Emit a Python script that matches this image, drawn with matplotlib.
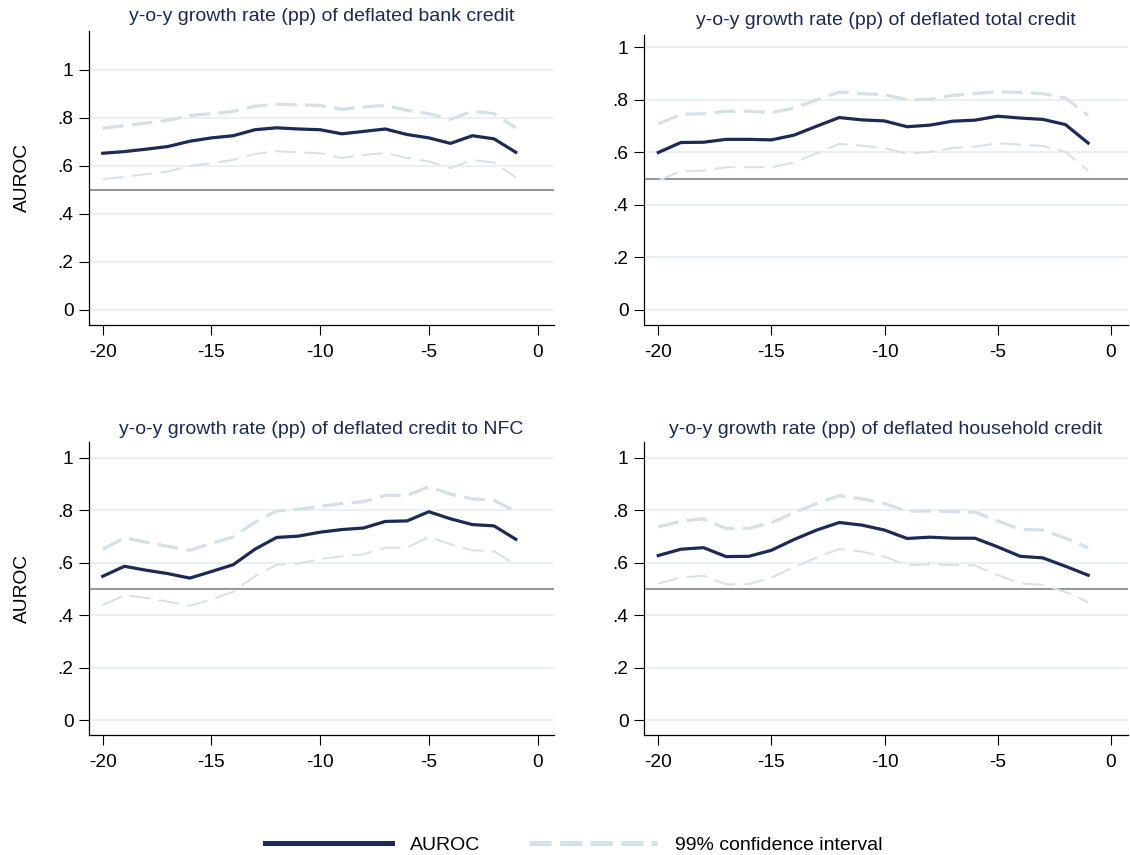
import matplotlib
matplotlib.use('Agg')
import matplotlib.pyplot as plt
from matplotlib.lines import Line2D
import numpy as np

plt.rcParams['font.family'] = ['Liberation Sans', 'DejaVu Sans']
plt.rcParams['lines.scale_dashes'] = False

# horizon (quarters before crisis)
horizon = list(range(-20, 0))

titles = ['y-o-y growth rate (pp) of deflated bank credit',
          'y-o-y growth rate (pp) of deflated total credit',
          'y-o-y growth rate (pp) of deflated credit to NFC',
          'y-o-y growth rate (pp) of deflated household credit']

# bank credit
bank_auc = [0.653, 0.660, 0.670, 0.681, 0.703, 0.717, 0.726, 0.751, 0.759, 0.754,
            0.751, 0.734, 0.744, 0.754, 0.731, 0.717, 0.694, 0.726, 0.713, 0.657]
bank_hi = [0.758, 0.768, 0.779, 0.790, 0.810, 0.818, 0.827, 0.849, 0.857, 0.855,
           0.852, 0.836, 0.846, 0.852, 0.832, 0.818, 0.794, 0.828, 0.818, 0.759]
bank_lo = [0.545, 0.555, 0.566, 0.577, 0.600, 0.612, 0.625, 0.650, 0.661, 0.657,
           0.653, 0.633, 0.646, 0.654, 0.633, 0.619, 0.591, 0.625, 0.614, 0.552]

# total credit
total_auc = [0.599, 0.637, 0.638, 0.649, 0.649, 0.647, 0.665, 0.699, 0.732, 0.723,
             0.719, 0.697, 0.703, 0.718, 0.722, 0.737, 0.730, 0.725, 0.705, 0.635]
total_hi = [0.708, 0.744, 0.746, 0.756, 0.756, 0.751, 0.768, 0.799, 0.829, 0.823,
            0.819, 0.799, 0.801, 0.816, 0.823, 0.830, 0.827, 0.823, 0.806, 0.740]
total_lo = [0.492, 0.528, 0.530, 0.543, 0.543, 0.543, 0.561, 0.596, 0.632, 0.625,
            0.616, 0.594, 0.601, 0.616, 0.621, 0.634, 0.629, 0.624, 0.601, 0.530]

# credit to NFC
nfc_auc = [0.548, 0.586, 0.571, 0.558, 0.541, 0.566, 0.592, 0.651, 0.696, 0.701,
           0.716, 0.726, 0.732, 0.757, 0.759, 0.794, 0.767, 0.745, 0.740, 0.689]
nfc_hi = [0.651, 0.694, 0.678, 0.662, 0.647, 0.673, 0.698, 0.754, 0.797, 0.803,
          0.815, 0.825, 0.832, 0.856, 0.856, 0.889, 0.861, 0.843, 0.838, 0.794]
nfc_lo = [0.438, 0.476, 0.465, 0.451, 0.436, 0.459, 0.489, 0.548, 0.592, 0.596,
          0.614, 0.624, 0.632, 0.657, 0.657, 0.698, 0.670, 0.647, 0.643, 0.591]

# household credit
hh_auc = [0.627, 0.651, 0.657, 0.623, 0.624, 0.647, 0.688, 0.724, 0.753, 0.743,
          0.724, 0.692, 0.697, 0.693, 0.693, 0.660, 0.624, 0.618, 0.586, 0.552]
hh_hi = [0.736, 0.758, 0.767, 0.730, 0.731, 0.752, 0.790, 0.825, 0.855, 0.843,
         0.825, 0.796, 0.797, 0.795, 0.792, 0.759, 0.727, 0.724, 0.693, 0.657]
hh_lo = [0.520, 0.543, 0.550, 0.517, 0.518, 0.543, 0.583, 0.619, 0.652, 0.642,
         0.622, 0.590, 0.594, 0.591, 0.589, 0.553, 0.520, 0.515, 0.488, 0.449]

navy = '#1c2a55'
ci_col = '#d5e1e8'
grid_col = '#e6eff2'
ref_col = '#8c8c8c'

yticks = [0, 0.2, 0.4, 0.6, 0.8, 1]
ylabels = ['0', '.2', '.4', '.6', '.8', '1']

fig = plt.figure(figsize=(11.3, 8.55), dpi=100)

boxes = [[0.0788, 0.6199, 0.4115, 0.3439],
         [0.5699, 0.6199, 0.4283, 0.3392],
         [0.0788, 0.1404, 0.4115, 0.3427],
         [0.5699, 0.1404, 0.4283, 0.3427]]
ylims = [(-0.0625, 1.1625), (-0.057, 1.046), (-0.057, 1.06), (-0.057, 1.06)]
title_pads = [7, 7.5, 5.5, 5.5]

series = [(bank_auc, bank_hi, bank_lo), (total_auc, total_hi, total_lo),
          (nfc_auc, nfc_hi, nfc_lo), (hh_auc, hh_hi, hh_lo)]

for i in range(4):
    ax = fig.add_axes(boxes[i])
    auc, hi, lo = series[i]
    for yt in yticks:
        ax.axhline(yt, color=grid_col, lw=1.2, zorder=0)
    ax.axhline(0.5, color=ref_col, lw=1.3, zorder=1)
    ax.plot(horizon, hi, color=ci_col, lw=2.3, dashes=(15, 6), zorder=2)
    ax.plot(horizon, lo, color=ci_col, lw=1.4, dashes=(15, 6), zorder=2)
    ax.plot(horizon, auc, color=navy, lw=2.3, zorder=3)
    ax.set_xlim(-20.63, 0.76)
    ax.set_ylim(*ylims[i])
    ax.set_xticks([-20, -15, -10, -5, 0])
    ax.set_xticklabels(['-20', '-15', '-10', '-5', '0'])
    ax.set_yticks(yticks)
    ax.set_yticklabels(ylabels)
    ax.tick_params(axis='both', labelsize=13.8, length=7.2, width=0.8, colors='black')
    ax.tick_params(axis='x', pad=6.5)
    ax.tick_params(axis='y', pad=4)
    ax.spines['top'].set_visible(False)
    ax.spines['right'].set_visible(False)
    ax.spines['left'].set_linewidth(0.9)
    ax.spines['bottom'].set_linewidth(0.9)
    ax.set_title(titles[i], fontsize=14, color=navy, pad=title_pads[i])
    if i % 2 == 0:
        ax.set_ylabel('AUROC', fontsize=13.8)
        ax.yaxis.set_label_coords(-0.1245, 0.5)

handles = [Line2D([0], [0], color=navy, lw=3.6),
           Line2D([0], [0], color=ci_col, lw=3.6, dashes=(16, 6))]
fig.legend(handles, ['AUROC', '99% confidence interval'], loc='lower center',
           bbox_to_anchor=(0.5075, -0.0195), ncol=2, frameon=False, fontsize=14,
           handlelength=6.55, handletextpad=0.93, columnspacing=2.5)

plt.savefig('out.png', dpi=100)
